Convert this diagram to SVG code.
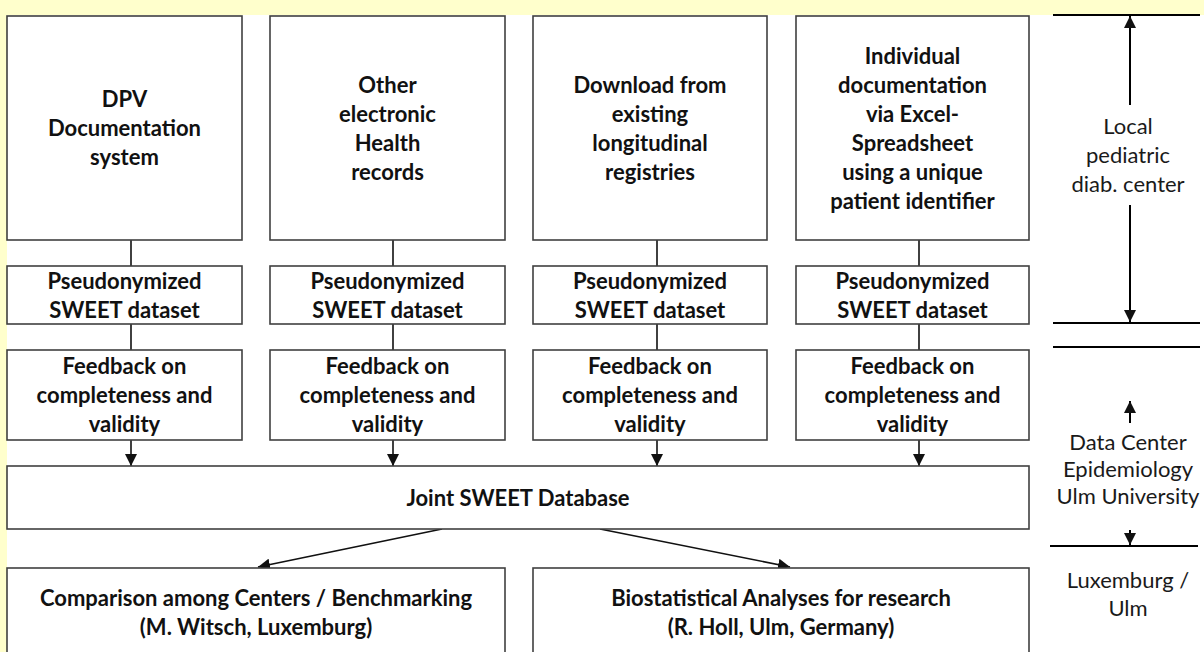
<svg xmlns="http://www.w3.org/2000/svg" width="1204" height="652" viewBox="0 0 1204 652">
<style>
.bg{fill:#ffffff}
.box{fill:#ffffff;stroke:#404040;stroke-width:1.6}
.t{font-family:Lato,"Liberation Sans",sans-serif;font-weight:bold;font-size:22px;fill:#111;text-anchor:middle}
.r{font-family:Lato,"Liberation Sans",sans-serif;font-size:22px;fill:#1a1a1a;text-anchor:middle}
.c{stroke:#111;stroke-width:1.6;fill:none}
.a{stroke:#000;stroke-width:2;fill:none}
.hl{stroke:#000;stroke-width:2;fill:none}
</style>
<defs>
<marker id="ah" viewBox="0 0 12 12" refX="12" refY="6" markerWidth="12" markerHeight="12" markerUnits="userSpaceOnUse" orient="auto">
<path d="M0,0 L12,6 L0,12 z" fill="#111"/>
</marker>
</defs>
<rect x="0" y="0" width="1204" height="652" fill="#ffffcc"/>
<rect x="7" y="15" width="1197" height="637" class="bg"/>

<g id="connectors">
<line class="c" x1="131" y1="240" x2="131" y2="266"/>
<line class="c" x1="393" y1="240" x2="393" y2="266"/>
<line class="c" x1="657" y1="240" x2="657" y2="266"/>
<line class="c" x1="919" y1="240" x2="919" y2="266"/>
<line class="c" x1="131" y1="324" x2="131" y2="350"/>
<line class="c" x1="393" y1="324" x2="393" y2="350"/>
<line class="c" x1="657" y1="324" x2="657" y2="350"/>
<line class="c" x1="919" y1="324" x2="919" y2="350"/>
<line class="c" x1="131" y1="440" x2="131" y2="466" marker-end="url(#ah)"/>
<line class="c" x1="393" y1="440" x2="393" y2="466" marker-end="url(#ah)"/>
<line class="c" x1="657" y1="440" x2="657" y2="466" marker-end="url(#ah)"/>
<line class="c" x1="919" y1="440" x2="919" y2="466" marker-end="url(#ah)"/>
<line class="c" x1="442" y1="529" x2="258" y2="567" marker-end="url(#ah)"/>
<line class="c" x1="600" y1="529" x2="790" y2="567" marker-end="url(#ah)"/>
</g>

<g id="n1"><rect class="box" x="7" y="16" width="235" height="224"/>
<text class="t" x="124.5"><tspan x="124.5" y="107">DPV</tspan><tspan x="124.5" y="136">Documentation</tspan><tspan x="124.5" y="165">system</tspan></text></g>
<g id="n2"><rect class="box" x="270" y="16" width="235" height="224"/>
<text class="t"><tspan x="387.5" y="92.5">Other</tspan><tspan x="387.5" y="121.5">electronic</tspan><tspan x="387.5" y="150.5">Health</tspan><tspan x="387.5" y="179.5">records</tspan></text></g>
<g id="n3"><rect class="box" x="533" y="16" width="234" height="224"/>
<text class="t"><tspan x="650" y="92.5">Download from</tspan><tspan x="650" y="121.5">existing</tspan><tspan x="650" y="150.5">longitudinal</tspan><tspan x="650" y="179.5">registries</tspan></text></g>
<g id="n4"><rect class="box" x="796" y="16" width="233" height="224"/>
<text class="t"><tspan x="912.5" y="63.5">Individual</tspan><tspan x="912.5" y="92.5">documentation</tspan><tspan x="912.5" y="121.5">via Excel-</tspan><tspan x="912.5" y="150.5">Spreadsheet</tspan><tspan x="912.5" y="179.5">using a unique</tspan><tspan x="912.5" y="208.5">patient identifier</tspan></text></g>

<g id="p1"><rect class="box" x="7" y="266" width="235" height="58"/>
<text class="t"><tspan x="124.5" y="288.5">Pseudonymized</tspan><tspan x="124.5" y="317.5">SWEET dataset</tspan></text></g>
<g id="p2"><rect class="box" x="270" y="266" width="235" height="58"/>
<text class="t"><tspan x="387.5" y="288.5">Pseudonymized</tspan><tspan x="387.5" y="317.5">SWEET dataset</tspan></text></g>
<g id="p3"><rect class="box" x="533" y="266" width="234" height="58"/>
<text class="t"><tspan x="650" y="288.5">Pseudonymized</tspan><tspan x="650" y="317.5">SWEET dataset</tspan></text></g>
<g id="p4"><rect class="box" x="796" y="266" width="233" height="58"/>
<text class="t"><tspan x="912.5" y="288.5">Pseudonymized</tspan><tspan x="912.5" y="317.5">SWEET dataset</tspan></text></g>

<g id="f1"><rect class="box" x="7" y="350" width="235" height="90"/>
<text class="t"><tspan x="124.5" y="374">Feedback on</tspan><tspan x="124.5" y="403">completeness and</tspan><tspan x="124.5" y="432">validity</tspan></text></g>
<g id="f2"><rect class="box" x="270" y="350" width="235" height="90"/>
<text class="t"><tspan x="387.5" y="374">Feedback on</tspan><tspan x="387.5" y="403">completeness and</tspan><tspan x="387.5" y="432">validity</tspan></text></g>
<g id="f3"><rect class="box" x="533" y="350" width="234" height="90"/>
<text class="t"><tspan x="650" y="374">Feedback on</tspan><tspan x="650" y="403">completeness and</tspan><tspan x="650" y="432">validity</tspan></text></g>
<g id="f4"><rect class="box" x="796" y="350" width="233" height="90"/>
<text class="t"><tspan x="912.5" y="374">Feedback on</tspan><tspan x="912.5" y="403">completeness and</tspan><tspan x="912.5" y="432">validity</tspan></text></g>

<g id="joint"><rect class="box" x="7" y="466" width="1022" height="63"/>
<text class="t" x="518" y="505.5">Joint SWEET Database</text></g>

<g id="bench"><rect class="box" x="7" y="568" width="498" height="100"/>
<text class="t"><tspan x="256" y="606">Comparison among Centers / Benchmarking</tspan><tspan x="256" y="635">(M. Witsch, Luxemburg)</tspan></text></g>
<g id="bio"><rect class="box" x="533" y="568" width="496" height="100"/>
<text class="t"><tspan x="781" y="606">Biostatistical Analyses for research</tspan><tspan x="781" y="635">(R. Holl, Ulm, Germany)</tspan></text></g>

<g id="levels">
<line class="hl" x1="1053" y1="15" x2="1200" y2="15"/>
<line class="hl" x1="1053" y1="323" x2="1200" y2="323"/>
<line class="hl" x1="1053" y1="347" x2="1200" y2="347"/>
<line class="hl" x1="1050" y1="546" x2="1198" y2="546"/>
<line class="a" x1="1130" y1="105" x2="1130" y2="16" marker-end="url(#ah)"/>
<line class="a" x1="1130" y1="205" x2="1130" y2="322" marker-end="url(#ah)"/>
<line class="a" x1="1130" y1="423" x2="1130" y2="401" marker-end="url(#ah)"/>
<line class="a" x1="1130" y1="530" x2="1130" y2="545" marker-end="url(#ah)"/>
<text class="r"><tspan x="1128" y="134">Local</tspan><tspan x="1128" y="163">pediatric</tspan><tspan x="1128" y="192">diab. center</tspan></text>
<text class="r"><tspan x="1128" y="450">Data Center</tspan><tspan x="1128" y="477">Epidemiology</tspan><tspan x="1128" y="504">Ulm University</tspan></text>
<text class="r"><tspan x="1128" y="588">Luxemburg /</tspan><tspan x="1128" y="616">Ulm</tspan></text>
</g>
</svg>
